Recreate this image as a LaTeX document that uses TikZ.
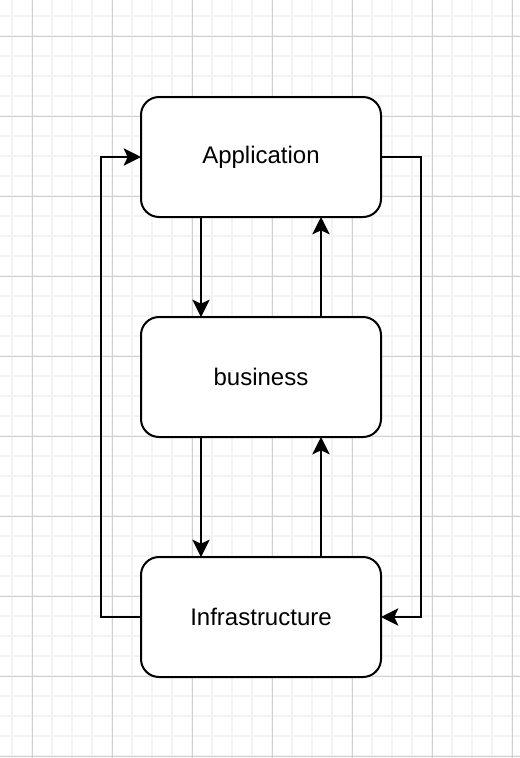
\documentclass[tikz,border=0pt]{standalone}
\usepackage{fontspec}
\setmainfont{Liberation Sans}
\usepackage{xcolor}
\usepackage{tikz}
\usetikzlibrary{positioning,arrows.meta}
\definecolor{gridminor}{HTML}{F3F3F3}
\definecolor{gridmajor}{HTML}{D0D0D0}

\begin{document}
\begin{tikzpicture}[x=0.75pt,y=-0.75pt,node distance=75pt,
  box/.style={draw,line width=1.5pt,rounded corners=13.5pt,fill=white,outer sep=0pt,minimum width=180pt,minimum height=90pt,align=center,font=\fontsize{18}{22}\selectfont},
  arrow/.style={-{Stealth[length=13pt,width=13pt,inset=3pt]},line width=1.5pt}]
\useasboundingbox (0,0) rectangle (520,758);
% grid
\foreach \x in {12,32,...,512} \draw[gridminor,line width=1.5pt] (\x,0) -- (\x,758);
\foreach \y in {16,36,...,756} \draw[gridminor,line width=1.5pt] (0,\y) -- (520,\y);
\foreach \x in {32,112,...,512} \draw[gridmajor,line width=0.75pt] (\x,0) -- (\x,758);
\foreach \y in {36,116,...,756} \draw[gridmajor,line width=0.75pt] (0,\y) -- (520,\y);
% layers
\node[box] (app) at (261,157) {Application};
\node[box] (biz) [below=75pt of app] {business};
\node[box] (infra) [below=90pt of biz] {Infrastructure};
\draw[arrow] ([xshift=-45pt]app.south) -- ([xshift=-45pt]biz.north);
\draw[arrow] ([xshift=45pt]biz.north) -- ([xshift=45pt]app.south);
\draw[arrow] ([xshift=-45pt]biz.south) -- ([xshift=-45pt]infra.north);
\draw[arrow] ([xshift=45pt]infra.north) -- ([xshift=45pt]biz.south);
\draw[arrow] (infra.west) -- ++(-30pt,0) |- (app.west);
\draw[arrow] (app.east) -- ++(30pt,0) |- (infra.east);
\end{tikzpicture}
\end{document}
